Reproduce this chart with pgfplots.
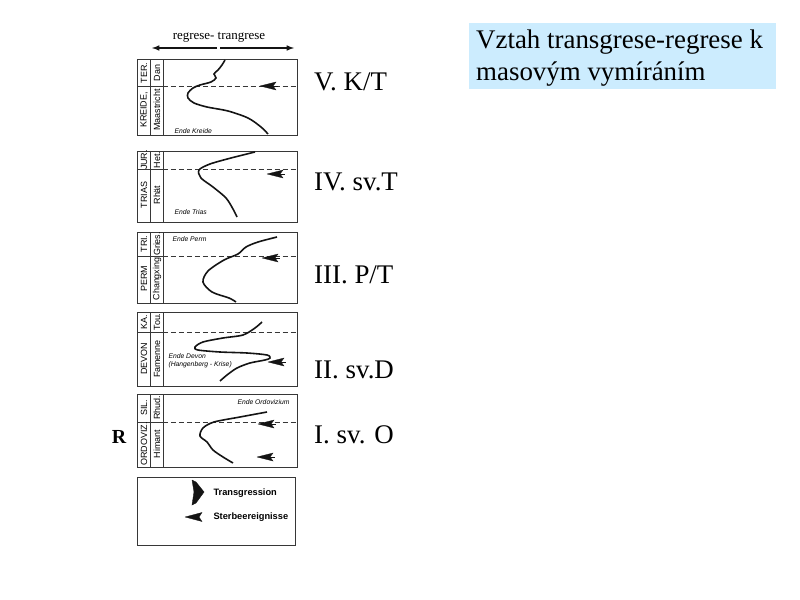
\documentclass[border=0pt]{standalone}
\usepackage{pgfplots}
\pgfplotsset{compat=1.18}
\usepackage{fontspec}
\setmainfont{Liberation Serif}
\newfontfamily\scan{Liberation Sans}
\definecolor{titlebg}{RGB}{204,236,254}
\definecolor{ink}{RGB}{20,20,20}

% one box of the scanned figure: top, dashed line, bottom
\newcommand{\scanbox}[3]{%
  \addplot[ink!85, line width=1pt] coordinates {(137,#1) (297,#1) (297,#3) (137,#3) (137,#1)};
  \addplot[ink!85, line width=0.8pt] coordinates {(150,#1) (150,#3)};
  \addplot[ink!85, line width=0.8pt] coordinates {(163,#1) (163,#3)};
  \addplot[ink!85, line width=0.8pt] coordinates {(137,#2) (163,#2)};
  \addplot[ink!85, line width=0.8pt, dash pattern=on 5pt off 3pt] coordinates {(163,#2) (297,#2)};
}
% extinction arrow, tip at x, height y
\newcommand{\death}[2]{%
  \addplot[ink, fill=ink, line width=0.3pt] coordinates {(#1,#2) (#1+16,#2-4) (#1+13,#2) (#1+16,#2+4) (#1,#2)};
  \addplot[ink, line width=0.8pt] coordinates {(#1+12,#2) (#1+18,#2)};
}
\newcommand{\vlab}[3]{\node[rotate=90, font=\scan\fontsize{9}{10}\selectfont] at (axis cs:#1,#2) {#3};}
\newcommand{\note}[3]{\node[anchor=west, font=\scan\itshape\fontsize{6.8}{7}\selectfont] at (axis cs:#1,#2) {#3};}
\newcommand{\slide}[3]{\node[anchor=west, font=\fontsize{27}{29}\selectfont, inner sep=0pt] at (axis cs:#1,#2) {#3};}

\begin{document}
\begin{tikzpicture}
\begin{axis}[scale only axis, width=800bp, height=600bp,
  xmin=0, xmax=800, ymin=0, ymax=600, y dir=reverse,
  hide axis, clip=false]
\fill[white] (axis cs:0,0) rectangle (axis cs:800,600);

% title
\fill[titlebg] (axis cs:469,23) rectangle (axis cs:776,89);
\node[anchor=north west, align=left, font=\fontsize{27}{32}\selectfont, inner sep=0pt]
  at (axis cs:476,30) {Vztah transgrese-regrese k\\masovým vymíráním};

% header arrows
\node[font=\fontsize{13}{14}\selectfont] at (axis cs:219,37) {regrese- trangrese};
\addplot[ink, line width=1.5pt, -latex] coordinates {(217,48) (152,48)};
\addplot[ink, line width=1.5pt, -latex] coordinates {(220,48) (294,48)};

% boxes
\scanbox{60}{86}{135}
\scanbox{151}{169}{222}
\scanbox{232}{256}{303}
\scanbox{312}{332}{386}
\scanbox{394}{422}{467}

% sea level curves
\addplot[ink, line width=1.6pt, smooth, tension=0.5] coordinates {
 (225,60) (222,65) (218,70) (214,74) (216,78) (211,82) (200,85) (193,88) (188,93) (188,98)
 (194,103) (207,107) (228,111) (248,118) (261,127) (268,134)};
\addplot[ink, line width=1.6pt, smooth, tension=0.5] coordinates {
 (255,152) (231,158) (210,164) (199,170) (201,178) (213,187) (226,198) (233,209) (237,217)};
\addplot[ink, line width=1.6pt, smooth, tension=0.5] coordinates {
 (277,237) (258,242) (246,247) (238,254) (224,260) (208,271) (203,282) (212,292) (229,298) (236,302)};
\addplot[ink, line width=1.6pt, smooth, tension=0.5] coordinates {
 (262,322) (255,328) (243,335) (223,338) (203,342) (195,347) (198,350) (220,352) (247,353)
 (267,355) (270,358) (265,360) (250,363) (237,368) (227,375) (220,381)};
\addplot[ink, line width=1.6pt, smooth, tension=0.5] coordinates {
 (267,412) (240,417) (214,422) (203,428) (200,436) (207,442) (213,450) (223,457) (233,463)};

% extinction events
\death{260}{86}
\death{267}{174}
\death{262}{258}
\death{268}{362}
\death{258}{424}
\death{257}{457}

% column labels
\vlab{144}{73}{TER.}   \vlab{157}{73}{Dan}
\vlab{144}{110}{KREIDE,} \vlab{157}{110}{Maastricht}
\vlab{144}{160}{JUR.}  \vlab{157}{160}{Het.}
\vlab{144}{195}{TRIAS} \vlab{157}{195}{Rhät}
\vlab{144}{244}{TRI.}  \vlab{157}{244}{Gries.}
\vlab{144}{279}{PERM}  \vlab{157}{279}{Changxing}
\vlab{144}{322}{KA.}   \vlab{157}{322}{Tou.}
\vlab{144}{359}{DEVON} \vlab{157}{359}{Famenne}
\vlab{144}{408}{SIL.}  \vlab{157}{408}{Rhud.}
\vlab{144}{444}{ORDOVIZ.} \vlab{157}{444}{Himant}

% small notes
\note{171}{131}{Ende Kreide}
\note{171}{212}{Ende Trias}
\note{169}{239}{Ende Perm}
\note{165}{356}{Ende Devon}
\note{165}{365}{(Hangenberg - Krise)}
\note{234}{402}{Ende Ordovizium}

% legend box
\addplot[ink!85, line width=1pt] coordinates {(137,477) (295,477) (295,545) (137,545) (137,477)};
\addplot[ink, fill=ink] coordinates {(192,480) (196,482) (204,492) (196,503) (192,505) (194,492) (192,480)};
\node[anchor=west, font=\scan\bfseries\fontsize{9.3}{10}\selectfont] at (axis cs:210,493) {Transgression};
\addplot[ink, fill=ink, line width=0.3pt] coordinates {(185,517) (202,512.5) (199,517) (202,521.5) (185,517)};
\node[anchor=west, font=\scan\bfseries\fontsize{9.3}{10}\selectfont] at (axis cs:210,517) {Sterbeereignisse};

% right side labels
\slide{314}{82}{V. K/T}
\slide{314}{182}{IV. sv.T}
\slide{314}{275}{III. P/T}
\slide{314}{370}{II. sv.D}
\slide{314}{435}{I. sv. O}
\node[font=\bfseries\fontsize{20}{22}\selectfont, inner sep=0pt] at (axis cs:119,437) {R};
\end{axis}
\end{tikzpicture}
\end{document}
